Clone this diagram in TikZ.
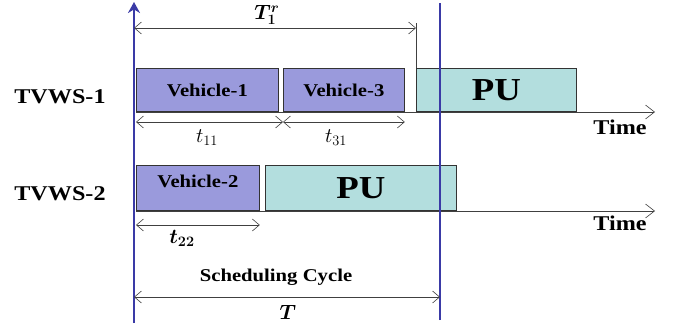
\documentclass[tikz,border=0pt]{standalone}
\usepackage{amsmath}
\usepackage{bm}
\usepackage{fontspec}
\setmainfont{Liberation Serif}[FakeStretch=1.15]
\usetikzlibrary{positioning, arrows.meta, calc}
\definecolor{colour_veh}{HTML}{9A9ADC}
\definecolor{colour_pu}{HTML}{B3DEDE}
\definecolor{colour_cycle}{HTML}{3A3AA6}

\begin{document}
\begin{tikzpicture}[
    x=1pt, y=-1pt,
    font=\bfseries,
    slot/.style={rectangle, draw=black!80, line width=0.8pt, anchor=south west,
                 inner sep=0pt, minimum height=43pt},
    veh/.style={slot, fill=colour_veh, font=\fontsize{18}{18}\selectfont\bfseries},
    pu/.style={slot, fill=colour_pu, font=\fontsize{32}{32}\selectfont\bfseries},
    span/.style={{Straight Barb[length=7pt, width=12pt]}-{Straight Barb[length=7pt, width=12pt]},
                 black!75, line width=0.6pt},
    timeaxis/.style={-{Straight Barb[length=9pt, width=14pt]}, black!75, line width=0.6pt},
    bound/.style={colour_cycle, line width=2.8pt},
    chan/.style={font=\fontsize{21}{21}\selectfont\bfseries},
    lbl/.style={font=\fontsize{21}{21}\selectfont\bfseries},
    sym/.style={font=\fontsize{21}{21}\selectfont}
]
\useasboundingbox (0,0) rectangle (677,329);

% Channel labels
\node[chan] (tvws1) at (60,97) {TVWS-1};
\node[chan] (tvws2) at (60,194) {TVWS-2};

% TVWS-1 slots
\node[veh, minimum width=142pt] (veh1) at (136,112) {Vehicle-1};
\node[veh, minimum width=121pt] (veh3) at (283,112) {Vehicle-3};
\node[pu, minimum width=160pt] (pu1) at (416,112) {PU};

% TVWS-2 slots
\node[veh, minimum width=123pt, minimum height=45pt, text depth=14pt] (veh2) at (136,211) {Vehicle-2};
\node[pu, minimum width=191pt, minimum height=45pt] (pu2) at (265,211) {PU};

% Time axes
\coordinate (end1) at (655,112);
\coordinate (end2) at (655,211);
\draw[timeaxis] (veh1.south west) -- (end1);
\draw[timeaxis] (veh2.south west) -- (end2);
\node[lbl] (time1) at (620,127) {Time};
\node[lbl] (time2) at (620,223) {Time};

% Scheduling cycle boundaries
\coordinate (cycS) at (134,323);
\coordinate (cycN) at (134,2);
\coordinate (cycE) at (440,320);
\coordinate (cycEN) at (440,3);
\draw[bound, -{Stealth[length=11pt, width=12pt]}] (cycS) -- (cycN);
\draw[bound] (cycE) -- (cycEN);

% Remaining time T_1^r
\coordinate (tick) at ($(pu1.north west)+(0,-45)$);
\draw[black!75, line width=0.6pt] (pu1.north west) -- (tick);
\draw[span] (134,28) -- (tick |- 0,28);
\node[sym] (t1r) at (267,15) {$\bm{T_1^r}$};

% Slot durations
\draw[span] ($(veh1.south west)+(0,10)$) -- ($(veh3.south west)+(0,10)$);
\draw[span] ($(veh3.south west)+(0,10)$) -- ($(veh3.south east)+(0,10)$);
\draw[span] ($(veh2.south west)+(0,14)$) -- ($(veh2.south east)+(0,14)$);
\node[sym] (t11) at (207,138) {$t_{11}$};
\node[sym] (t31) at (336,138) {$t_{31}$};
\node[sym] (t22) at (182,238) {$\bm{t_{22}}$};

% Cycle length T
\draw[span] (134,297) -- (cycE |- 0,297);
\node[lbl, font=\fontsize{18}{18}\selectfont\bfseries] (cyc) at (276,277) {Scheduling Cycle};
\node[sym] (tT) at (288,312) {$\bm{T}$};

\end{tikzpicture}
\end{document}
